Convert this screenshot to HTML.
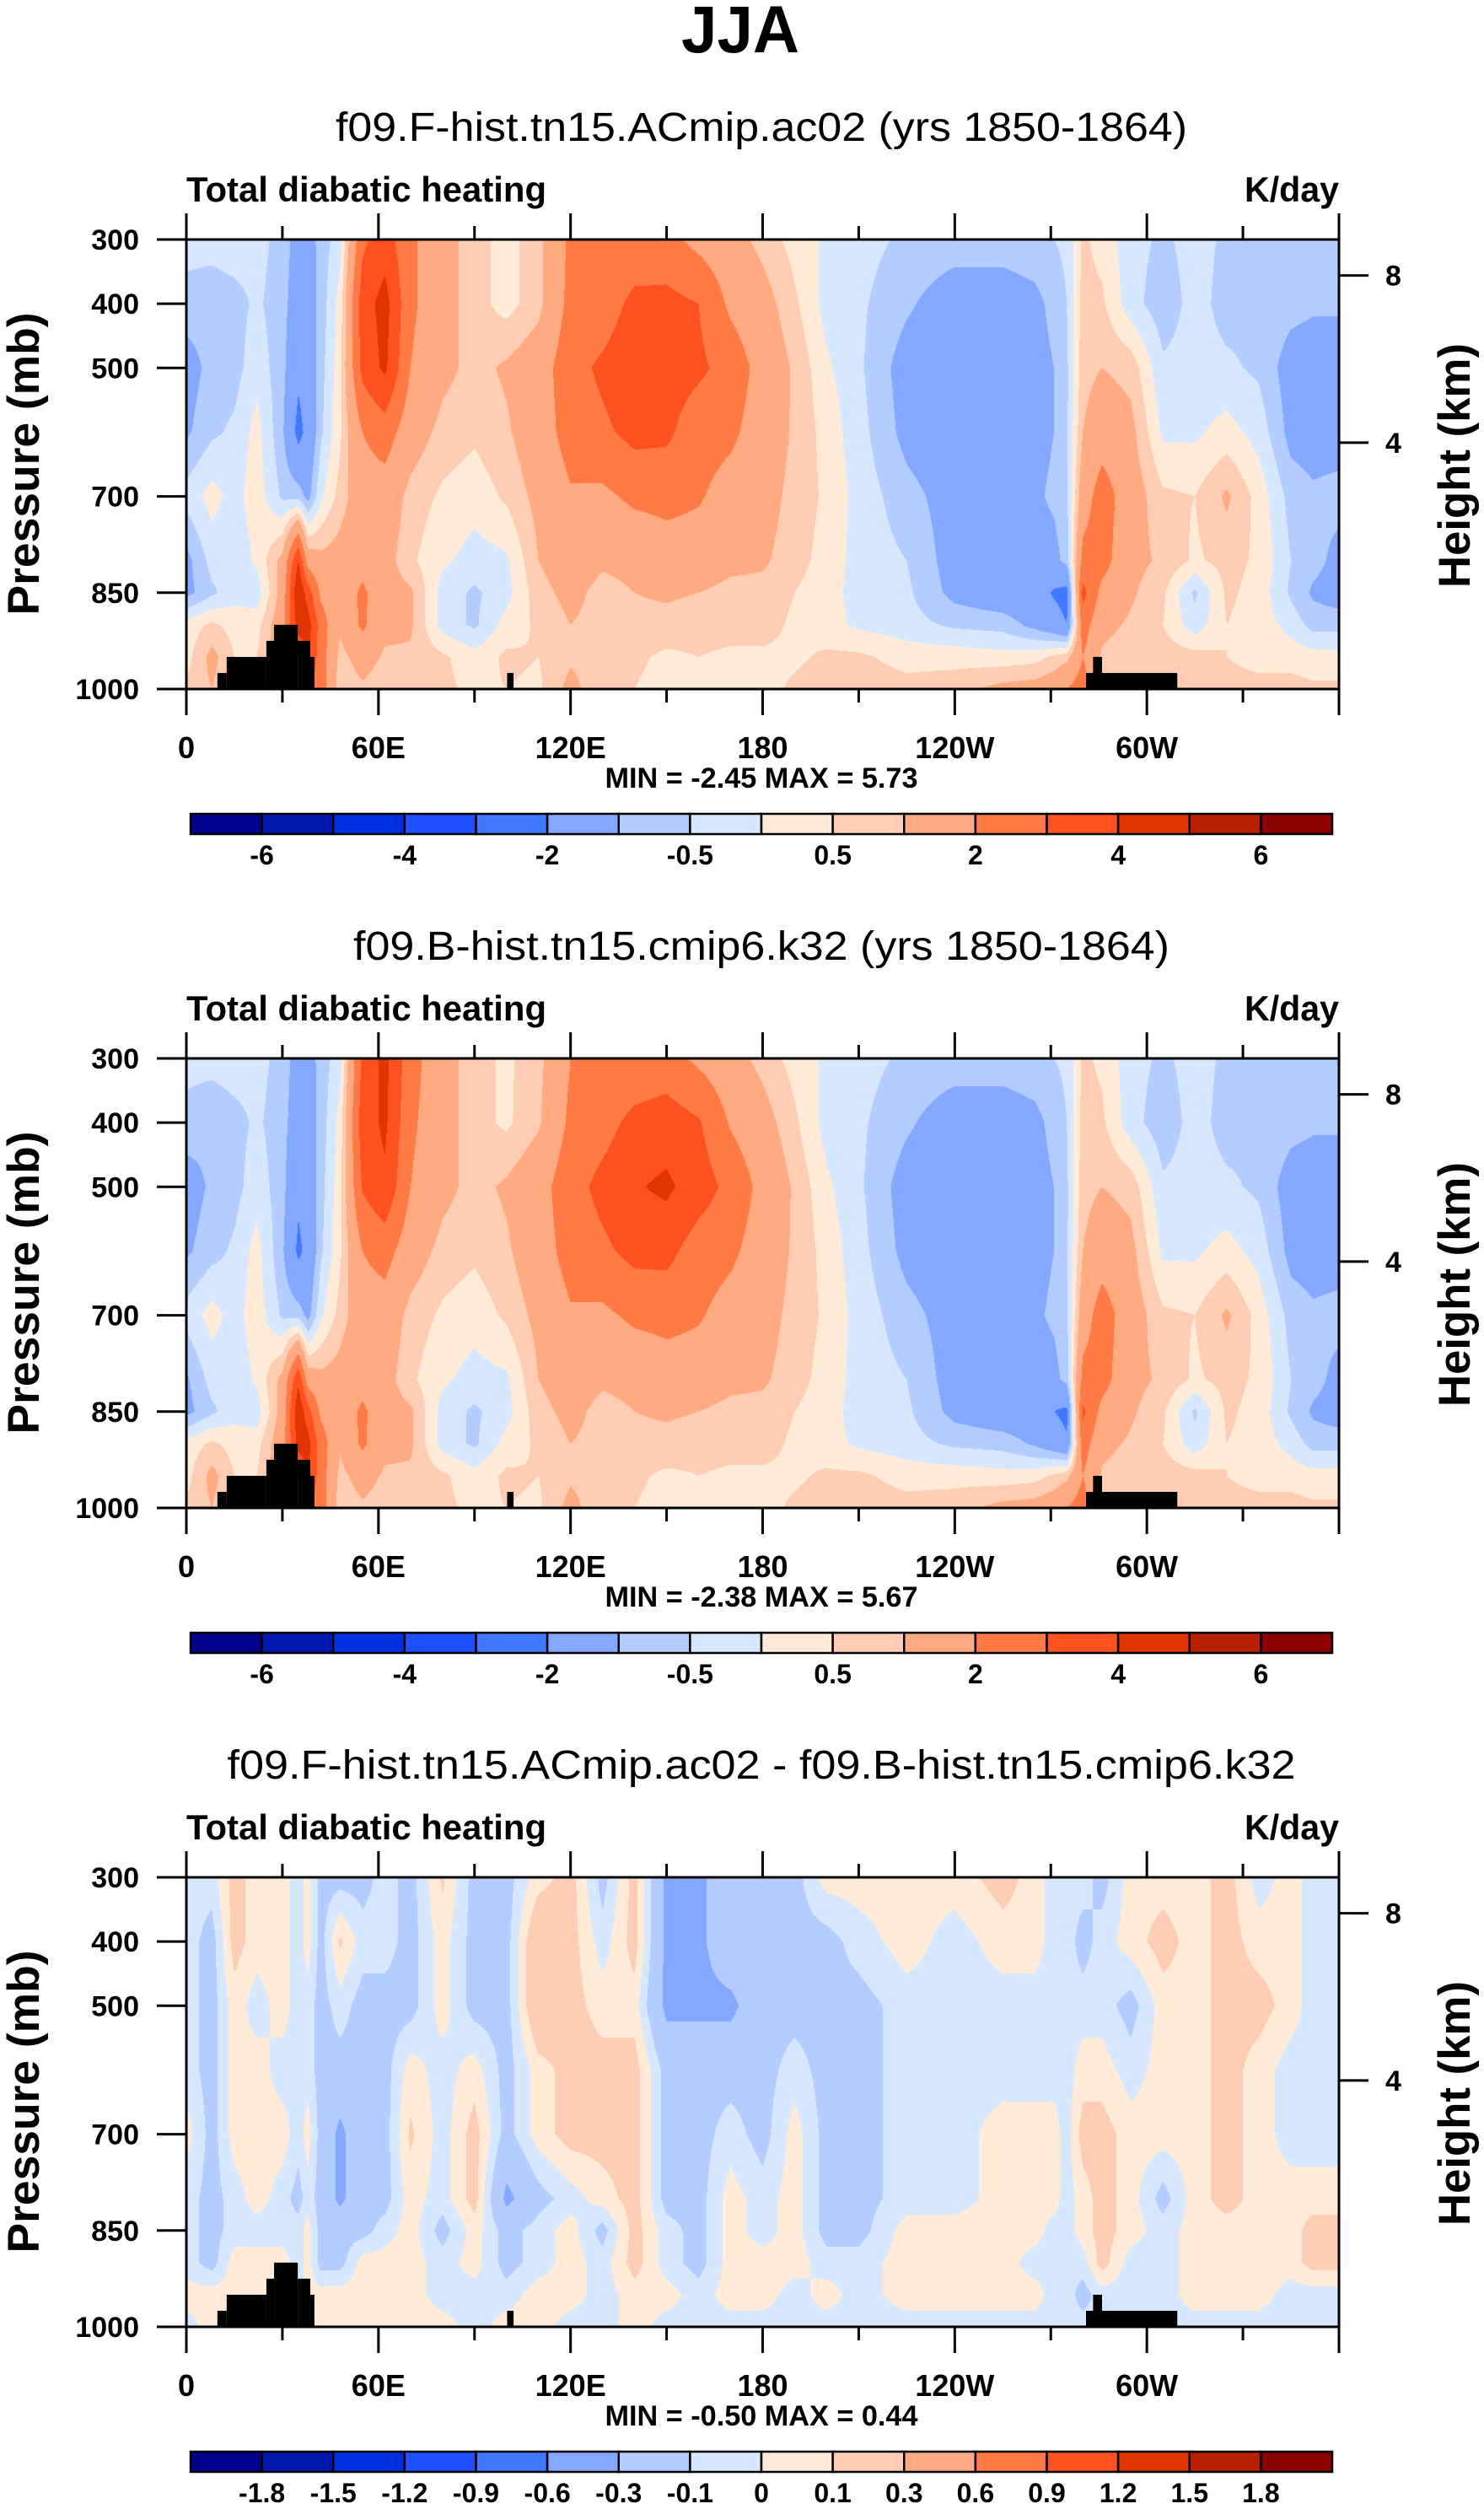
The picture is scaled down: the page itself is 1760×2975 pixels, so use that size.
<!DOCTYPE html>
<html><head><meta charset="utf-8"><style>
html,body{margin:0;padding:0;background:#fff}
#wrap{position:relative;width:1760px;height:2975px;overflow:hidden;font-family:"Liberation Sans",Arial,sans-serif}
canvas{position:absolute}
svg{position:absolute;left:0;top:0}
text{font-family:"Liberation Sans",Arial,sans-serif;font-weight:bold;fill:#000}
</style></head><body>
<div id="wrap">
<canvas id="c0" width="1367" height="533" style="left:221px;top:284px"></canvas>
<canvas id="c1" width="1367" height="533" style="left:221px;top:1255px"></canvas>
<canvas id="c2" width="1367" height="533" style="left:221px;top:2226px"></canvas>
<svg id="ov" width="1760" height="2975" xmlns="http://www.w3.org/2000/svg">
<text x="878" y="62" font-size="79" text-anchor="middle" textLength="140" lengthAdjust="spacingAndGlyphs">JJA</text>
</svg>
</div>
<script>
// ---- data ----
const lons = [0,8,15,22,30,35,38,42,48,55,62,70,80,90,100,110,120,130,140,150,160,170,180,190,200,210,225,240,255,265,271,275,280,286,295,305,315,325,335,345,352,360];
const levels = [300,400,500,600,700,800,850,900,950,1000];
const heat1 = [
[-0.3,-0.7,-1.3,-1.1,-0.3,-1.2,-1.2,0.2,0.3,0.6],
[-0.3,-0.8,-0.8,-0.6,0.2,-0.3,-0.6,0.6,1.2,1.0],
[-0.2,-0.7,-0.7,-0.4,-0.2,-0.4,-0.2,0.3,0.5,0.5],
[-0.3,-0.4,-0.2,0.2,0.3,0.1,-0.3,0.3,0.5,0.5],
[-0.7,-0.8,-0.8,-0.9,-0.6,1.2,1.3,1.5,1.5,1.5],
[-1.3,-1.4,-1.8,-2.3,-0.7,4.0,5.0,4.5,3.0,2.0],
[-1.3,-1.4,-1.5,-1.7,-1.2,1.5,3.5,4.5,4.0,3.0],
[-0.8,-0.8,-0.7,-0.6,-0.1,1.2,1.8,2.5,2.5,2.5],
[-0.2,0.2,0.3,0.4,0.7,1.3,1.3,1.1,0.8,0.6],
[2.8,3.5,3.3,2.0,1.5,1.6,2.2,2.2,1.3,0.9],
[3.5,4.4,4.2,2.5,1.5,1.3,1.3,1.2,0.9,0.7],
[2.2,2.2,2.0,1.4,0.8,0.6,1.1,1.1,0.9,0.6],
[1.3,1.3,1.2,0.8,0.4,0.1,-0.2,-0.2,0.6,0.6],
[0.7,0.7,0.8,0.6,0.2,-0.2,-0.6,-0.6,0.2,0.4],
[0.3,0.3,1.1,0.9,0.6,-0.1,-0.2,0.2,0.6,0.5],
[0.8,0.8,1.5,1.5,1.2,1.0,0.8,0.6,0.5,0.4],
[2.2,2.3,2.6,2.4,1.9,1.4,1.2,1.0,0.9,1.2],
[2.0,2.4,3.2,2.8,1.8,1.1,0.8,0.8,0.8,0.6],
[2.2,3.3,3.8,3.3,2.2,1.2,1.0,0.8,0.6,0.5],
[2.3,3.3,3.5,3.2,2.3,1.5,1.1,0.8,0.4,0.3],
[1.7,3.0,3.2,2.4,2.1,1.5,1.0,0.7,0.5,0.4],
[1.3,1.8,2.6,2.2,1.6,1.2,0.8,0.7,0.4,0.3],
[0.8,1.3,1.6,1.5,1.3,1.1,0.8,0.7,0.4,0.3],
[0.3,0.6,0.9,0.9,0.8,0.7,0.5,0.4,0.4,0.6],
[-0.1,-0.2,0.1,0.3,0.4,0.3,0.2,0.2,0.6,0.8],
[-0.3,-0.4,-0.4,-0.3,-0.2,-0.2,-0.2,-0.1,0.6,0.8],
[-0.6,-0.9,-1.3,-1.2,-0.8,-0.5,-0.4,-0.3,0.3,0.7],
[-0.7,-1.4,-1.6,-1.5,-1.3,-1.3,-1.2,-0.6,0.3,0.8],
[-0.7,-1.4,-1.5,-1.5,-1.4,-1.6,-1.5,-0.7,0.2,1.2],
[-0.6,-1.2,-1.3,-1.2,-1.1,-1.3,-1.6,-1.2,0.3,1.3],
[-0.5,-0.8,-1.0,-1.0,-0.9,-1.2,-2.1,-1.6,0.6,1.5],
[-0.4,-0.5,-0.6,-0.6,-0.6,-0.8,-2.3,-2.0,0.8,2.0],
[0.6,0.7,0.8,1.0,1.5,2.3,3.3,2.5,2.0,2.5],
[0.3,0.6,1.0,1.5,2.5,2.4,1.7,1.2,0.9,0.8],
[-0.3,-0.3,0.8,1.2,1.4,1.2,1.1,0.9,0.7,0.7],
[-0.6,-0.8,-0.4,-0.1,0.6,0.9,0.6,0.5,0.8,0.7],
[-0.3,-0.3,-0.3,-0.1,0.5,0.4,-0.6,-0.3,0.7,0.7],
[-0.6,-0.7,-0.4,0.2,1.1,0.7,0.6,0.5,0.5,0.7],
[-0.7,-0.6,-0.6,-0.2,0.3,0.4,0.3,0.3,0.3,0.7],
[-0.7,-0.8,-1.3,-1.2,-0.7,-0.5,-0.6,-0.2,0.3,0.7],
[-0.8,-0.9,-1.4,-1.3,-0.9,-0.8,-1.1,-0.7,0.2,0.6],
[-0.7,-0.9,-1.4,-1.3,-0.8,-1.2,-1.3,-0.7,0.2,0.6]];
const heat2 = [
[-0.3,-0.7,-1.3,-1.1,-0.3,-1.1,-1.2,0.2,0.3,0.6],
[-0.3,-0.9,-0.9,-0.7,0.2,-0.3,-0.6,0.6,1.2,1.0],
[-0.2,-0.7,-0.7,-0.4,-0.2,-0.4,-0.2,0.3,0.5,0.5],
[-0.3,-0.4,-0.2,0.2,0.3,0.1,-0.3,0.3,0.5,0.5],
[-0.7,-0.8,-0.8,-0.9,-0.6,1.2,1.3,1.5,1.5,1.5],
[-1.3,-1.4,-1.8,-2.2,-0.7,3.8,4.8,4.4,3.0,2.0],
[-1.3,-1.4,-1.5,-1.7,-1.2,1.5,3.4,4.4,4.0,3.0],
[-0.8,-0.8,-0.7,-0.6,-0.1,1.2,1.8,2.5,2.5,2.5],
[-0.2,0.2,0.3,0.4,0.7,1.3,1.3,1.1,0.8,0.6],
[3.2,3.5,3.1,2.0,1.5,1.6,2.2,2.2,1.3,0.9],
[4.3,4.2,3.8,2.4,1.5,1.3,1.3,1.2,0.9,0.7],
[2.4,2.2,2.0,1.4,0.8,0.6,1.1,1.1,0.9,0.6],
[1.3,1.3,1.2,0.8,0.4,0.1,-0.2,-0.2,0.6,0.6],
[0.7,0.7,0.8,0.6,0.2,-0.2,-0.6,-0.6,0.2,0.4],
[0.4,0.4,1.1,0.9,0.6,-0.1,-0.2,0.2,0.6,0.5],
[0.8,0.9,1.6,1.5,1.2,1.0,0.8,0.6,0.5,0.4],
[2.0,2.2,2.6,2.4,1.9,1.4,1.2,1.0,0.9,1.2],
[2.1,2.6,3.3,2.8,1.8,1.1,0.8,0.8,0.8,0.6],
[2.2,3.3,3.9,3.3,2.2,1.2,1.0,0.8,0.6,0.5],
[2.4,3.5,4.2,3.3,2.3,1.5,1.1,0.8,0.4,0.3],
[1.8,3.1,3.5,2.5,2.1,1.5,1.0,0.7,0.5,0.4],
[1.3,1.9,2.7,2.2,1.6,1.2,0.8,0.7,0.4,0.3],
[0.8,1.3,1.7,1.5,1.3,1.1,0.8,0.7,0.4,0.3],
[0.3,0.6,0.9,0.9,0.8,0.7,0.5,0.4,0.4,0.6],
[-0.1,-0.2,0.1,0.3,0.4,0.3,0.2,0.2,0.6,0.8],
[-0.3,-0.4,-0.4,-0.3,-0.2,-0.2,-0.2,-0.1,0.6,0.8],
[-0.6,-0.9,-1.3,-1.2,-0.8,-0.5,-0.4,-0.3,0.3,0.7],
[-0.7,-1.4,-1.6,-1.5,-1.3,-1.3,-1.2,-0.6,0.3,0.8],
[-0.7,-1.4,-1.5,-1.5,-1.4,-1.6,-1.5,-0.7,0.2,1.2],
[-0.6,-1.2,-1.3,-1.2,-1.1,-1.3,-1.5,-1.1,0.3,1.3],
[-0.5,-0.8,-1.0,-1.0,-0.9,-1.2,-2.0,-1.5,0.6,1.5],
[-0.4,-0.5,-0.6,-0.6,-0.6,-0.8,-2.2,-1.9,0.8,2.0],
[0.6,0.7,0.8,1.0,1.5,2.3,3.2,2.5,2.0,2.5],
[0.4,0.6,1.0,1.5,2.5,2.4,1.7,1.2,0.9,0.8],
[-0.3,-0.3,0.8,1.2,1.4,1.2,1.1,0.9,0.7,0.7],
[-0.6,-0.8,-0.4,-0.1,0.6,0.9,0.6,0.5,0.8,0.7],
[-0.3,-0.3,-0.3,-0.1,0.5,0.4,-0.6,-0.3,0.7,0.7],
[-0.6,-0.7,-0.4,0.2,1.1,0.7,0.6,0.5,0.5,0.7],
[-0.7,-0.6,-0.6,-0.2,0.3,0.4,0.3,0.3,0.3,0.7],
[-0.7,-0.8,-1.3,-1.2,-0.7,-0.5,-0.6,-0.2,0.3,0.7],
[-0.8,-0.9,-1.4,-1.3,-0.9,-0.8,-1.1,-0.7,0.2,0.6],
[-0.7,-0.9,-1.4,-1.3,-0.8,-1.2,-1.3,-0.7,0.2,0.6]];
const heatDiff = [
[-0.05,-0.05,-0.05,-0.05,0.05,-0.05,-0.05,-0.05,0.05,-0.05],
[-0.05,-0.15,-0.15,-0.15,-0.15,-0.15,-0.15,-0.15,0.05,0.05],
[0.15,0.15,0.05,0.05,0.05,-0.05,-0.05,0.05,0.05,0.05],
[0.05,0.05,-0.05,0.05,0.05,0.05,-0.05,0.05,0.05,0.05],
[0.05,0.05,0.05,-0.05,0.05,-0.05,-0.05,0.05,0.05,0.05],
[-0.05,-0.05,-0.05,-0.05,-0.05,-0.15,-0.05,-0.05,-0.05,-0.05],
[0.05,0.05,-0.05,-0.05,0.05,-0.05,0.05,0.05,0.05,0.05],
[-0.15,-0.15,-0.15,-0.15,-0.15,-0.15,-0.15,-0.15,0.05,0.05],
[-0.15,0.12,-0.05,-0.15,-0.35,-0.35,-0.15,-0.15,0.05,0.05],
[-0.15,-0.05,-0.15,-0.15,-0.15,-0.15,-0.15,0.05,0.05,0.05],
[-0.05,-0.05,-0.15,-0.15,-0.15,-0.15,-0.05,0.05,0.05,0.05],
[-0.15,-0.15,-0.15,0.05,0.12,0.05,0.05,0.05,0.05,0.05],
[0.12,0.05,0.05,-0.05,-0.05,-0.05,-0.15,-0.05,-0.05,0.05],
[-0.15,-0.15,-0.15,0.05,0.15,0.15,0.05,0.05,-0.05,-0.05],
[-0.15,-0.15,-0.15,-0.15,-0.15,-0.35,-0.15,-0.15,-0.05,0.05],
[0.05,0.25,0.25,0.05,0.05,-0.15,-0.05,-0.05,0.05,0.05],
[0.15,0.15,0.15,0.15,0.15,-0.05,0.05,0.05,0.05,-0.05],
[-0.15,-0.05,0.05,0.15,0.15,0.05,-0.15,-0.05,-0.05,-0.05],
[0.15,0.15,0.05,0.15,0.15,0.15,0.15,0.15,0.05,0.05],
[-0.35,-0.35,-0.35,-0.15,-0.15,-0.15,-0.05,-0.05,0.05,-0.05],
[-0.35,-0.35,-0.35,-0.15,-0.15,-0.15,-0.15,-0.15,-0.05,-0.05],
[-0.15,-0.15,-0.35,-0.15,-0.05,0.05,0.05,0.05,0.05,-0.05],
[-0.15,-0.15,-0.15,-0.15,-0.15,-0.05,-0.05,0.05,0.05,-0.05],
[-0.15,-0.15,-0.15,-0.05,0.05,0.05,0.05,0.05,-0.05,-0.05],
[0.05,-0.15,-0.15,-0.15,-0.15,-0.15,-0.15,-0.05,0.05,-0.05],
[0.05,-0.05,-0.15,-0.15,-0.15,-0.15,-0.15,-0.05,-0.05,-0.05],
[0.05,0.05,-0.05,-0.05,-0.05,-0.05,0.05,0.05,0.05,-0.05],
[0.05,-0.05,-0.05,-0.05,-0.05,-0.05,0.05,0.05,0.05,-0.05],
[0.15,0.05,-0.05,-0.05,0.05,0.05,0.05,0.05,0.05,-0.05],
[0.05,0.05,-0.05,-0.05,0.05,0.05,0.05,-0.05,0.05,-0.05],
[-0.05,-0.05,-0.05,-0.05,0.05,0.05,-0.05,-0.05,-0.05,-0.05],
[-0.05,-0.05,-0.05,-0.05,-0.05,-0.05,-0.05,-0.05,-0.05,-0.05],
[-0.05,-0.15,-0.05,0.05,0.15,0.05,0.05,-0.05,-0.15,-0.05],
[-0.15,-0.05,-0.05,0.05,0.15,0.15,0.15,0.15,-0.05,-0.05],
[0.05,0.05,-0.15,-0.05,0.05,0.05,0.05,-0.05,-0.05,-0.05],
[0.05,0.15,0.05,0.05,0.05,-0.15,-0.05,-0.05,-0.05,-0.05],
[0.05,0.05,0.05,0.05,0.05,0.05,0.05,0.05,0.05,-0.05],
[0.15,0.15,0.15,0.15,0.15,0.15,0.05,0.05,0.05,-0.05],
[-0.05,0.05,0.15,0.05,0.05,0.05,0.05,0.05,0.05,-0.05],
[0.05,0.05,0.05,-0.05,-0.05,0.05,0.05,0.05,-0.05,-0.05],
[-0.05,-0.05,-0.05,-0.05,-0.05,0.05,0.15,0.15,-0.05,-0.05],
[-0.05,-0.05,-0.05,-0.05,-0.05,0.05,0.15,0.15,-0.05,-0.05]];
const topoLon0 = [9.7,12.6,25,27.4,34.8,38.7,100.2,281,283.2];
const topoLon1 = [12.6,25,27.4,34.8,38.7,40,102.2,309.5,286];
const topoP = [975,950,925,900,925,950,975,975,950];
const levelsFull = [-6,-5,-4,-3,-2,-1,-0.5,0,0.5,1,2,3,4,5,6];
const levelsDiff = [-1.8,-1.5,-1.2,-0.9,-0.6,-0.3,-0.1,0,0.1,0.3,0.6,0.9,1.2,1.5,1.8];
const labelsFull = ["-6","","-4","","-2","","-0.5","","0.5","","2","","4","","6"];
const labelsDiff = ["-1.8","-1.5","-1.2","-0.9","-0.6","-0.3","-0.1","0","0.1","0.3","0.6","0.9","1.2","1.5","1.8"];
const xTickLabels = ["0","60E","120E","180","120W","60W"];
const pTicks = [300,400,500,700,850,1000];
const zTicks = [8,4];
const subtitles = ["f09.F-hist.tn15.ACmip.ac02 (yrs 1850-1864)","f09.B-hist.tn15.cmip6.k32 (yrs 1850-1864)","f09.F-hist.tn15.ACmip.ac02 - f09.B-hist.tn15.cmip6.k32"];
const minVals = ["-2.45","-2.38","-0.50"];
const maxVals = ["5.73","5.67","0.44"];
const colors = ["#00008C","#0018B0","#0030E0","#1E50FF","#4078FF","#84A8FF","#B4CCFF","#D6E8FF","#FFEBD8","#FFCCB4","#FFAA80","#FF7A45","#FF5020","#E03500","#B82000","#8B0000"];

// ---- layout ----
const PX=221, PW=1367, PH=533, PTOP=[284,1255,2226];
const subLen=[1010,968,1267];
const xOf = lon => PX + lon/360*PW;
const yOf = (p,k) => PTOP[k] + (p-300)/700*PH;
const zToP = z => 1013.25*Math.pow(1-2.25577e-5*z*1000,5.25588);

function hex(c){return [parseInt(c.slice(1,3),16),parseInt(c.slice(3,5),16),parseInt(c.slice(5,7),16)];}
const rgb = colors.map(hex);

function drawField(cid, grid, lev, k){
  const cv=document.getElementById(cid), ctx=cv.getContext('2d');
  const img=ctx.createImageData(PW,PH), d=img.data;
  const ci=[],cf=[];
  for(let x=0;x<PW;x++){const lon=(x+0.5)/PW*360;let i=0;while(i<lons.length-2&&lons[i+1]<lon)i++;ci.push(i);cf.push((lon-lons[i])/(lons[i+1]-lons[i]));}
  const ri=[],rf=[];
  for(let y=0;y<PH;y++){const p=300+(y+0.5)/PH*700;let j=0;while(j<levels.length-2&&levels[j+1]<p)j++;ri.push(j);rf.push((p-levels[j])/(levels[j+1]-levels[j]));}
  for(let y=0;y<PH;y++){const j=ri[y],fy=rf[y];
    for(let x=0;x<PW;x++){const i=ci[x],fx=cf[x];
      const v=(grid[i][j]*(1-fx)+grid[i+1][j]*fx)*(1-fy)+(grid[i][j+1]*(1-fx)+grid[i+1][j+1]*fx)*fy;
      let c=0;while(c<lev.length&&v>=lev[c])c++;
      const o=(y*PW+x)*4,col=rgb[c];d[o]=col[0];d[o+1]=col[1];d[o+2]=col[2];d[o+3]=255;}}
  ctx.putImageData(img,0,0);
}

const NS="http://www.w3.org/2000/svg", svg=document.getElementById('ov');
function el(tag,attrs,txt){const e=document.createElementNS(NS,tag);for(const a in attrs)e.setAttribute(a,attrs[a]);if(txt!==undefined)e.textContent=txt;svg.appendChild(e);return e;}

const grids=[heat1,heat2,heatDiff];
for(let k=0;k<3;k++){
  const lev = k<2?levelsFull:levelsDiff;
  drawField('c'+k, grids[k], lev, k);
  const T=PTOP[k], B=T+PH, off=k*971;
  let e;
  e=el('text',{x:903,y:167+off,'font-size':48,'text-anchor':'middle',textLength:subLen[k],lengthAdjust:'spacingAndGlyphs',style:'font-weight:normal'},subtitles[k]);
  
  
  e=el('text',{x:221,y:239+off,'font-size':42,textLength:427,lengthAdjust:'spacingAndGlyphs'},'Total diabatic heating');
  
  
  e=el('text',{x:1588,y:239+off,'font-size':42,'text-anchor':'end',textLength:112,lengthAdjust:'spacingAndGlyphs'},'K/day');
  
  
  for(let t=0;t<topoP.length;t++){
    const y0=yOf(topoP[t],k);
    e=el('rect',{x:xOf(topoLon0[t]),y:y0,width:xOf(topoLon1[t])-xOf(topoLon0[t]),height:B-y0,fill:'#000'});
    
    
  }
  e=el('rect',{x:PX,y:T,width:PW,height:PH,fill:'none',stroke:'#000','stroke-width':3});
  
  
  for(let lon=0;lon<=360;lon+=30){
    const major=lon%60===0, L=major?31:16, x=xOf(lon);
    el('line',{x1:x,y1:B,x2:x,y2:B+L,stroke:'#000','stroke-width':3});
    el('line',{x1:x,y1:T,x2:x,y2:T-L,stroke:'#000','stroke-width':3});
  }
  xTickLabels.forEach((s,i)=>{
    e=el('text',{x:xOf(i*60),y:899+off,'font-size':36,'text-anchor':'middle'},s);
    
    
  });
  pTicks.forEach(p=>{
    const y=yOf(p,k);
    el('line',{x1:PX-35,y1:y,x2:PX,y2:y,stroke:'#000','stroke-width':3});
    e=el('text',{x:165,y:y+12,'font-size':34,'text-anchor':'end'},String(p));
    
    
  });
  zTicks.forEach(z=>{
    const y=yOf(zToP(z),k);
    el('line',{x1:PX+PW,y1:y,x2:PX+PW+35,y2:y,stroke:'#000','stroke-width':3});
    e=el('text',{x:1643,y:y+12,'font-size':34},String(z));
    
    
  });
  e=el('text',{x:0,y:0,'font-size':53,'text-anchor':'middle',textLength:359,lengthAdjust:'spacingAndGlyphs',transform:`translate(46,${550+off}) rotate(-90)`},'Pressure (mb)');
  
  
  e=el('text',{x:0,y:0,'font-size':53,'text-anchor':'middle',textLength:290,lengthAdjust:'spacingAndGlyphs',transform:`translate(1743,${552+off}) rotate(-90)`},'Height (km)');
  
  
  e=el('text',{x:903,y:934+off,'font-size':34,'text-anchor':'middle',textLength:371,lengthAdjust:'spacingAndGlyphs','xml:space':'preserve'},'MIN =  '+minVals[k]+'  MAX =  '+maxVals[k]);
  
  
  const cbX=226, cbW=1354, cbY=965+off, cbH=24, bw=cbW/16;
  for(let c=0;c<16;c++){
    e=el('rect',{x:cbX+c*bw,y:cbY,width:bw,height:cbH,fill:colors[c],stroke:'#000','stroke-width':2.5});
    
    
  }
  const labs = k<2?labelsFull:labelsDiff;
  labs.forEach((s,i)=>{
    if(!s) return;
    e=el('text',{x:cbX+(i+1)*bw,y:1025+off,'font-size':32,'text-anchor':'middle'},s);
    
    
  });
}
</script>
</body></html>
